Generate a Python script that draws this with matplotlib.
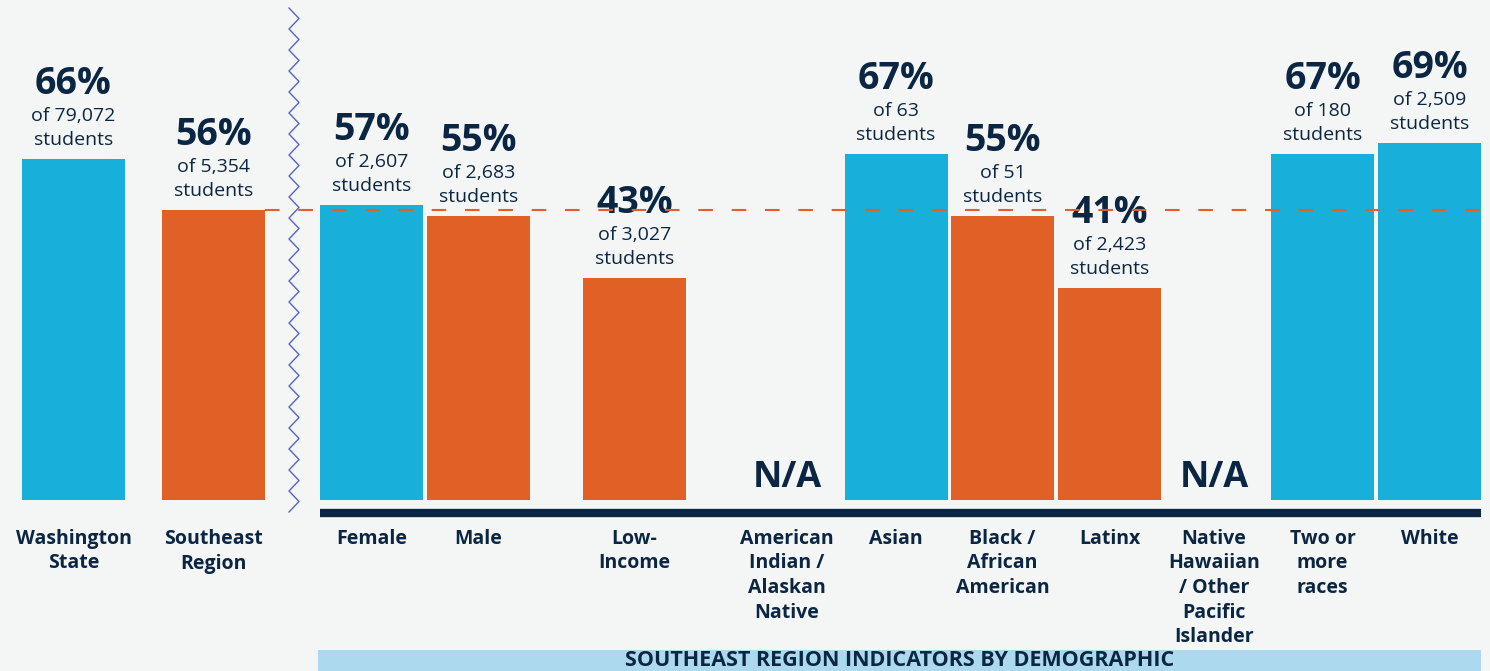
import numpy as np
import matplotlib
matplotlib.use("Agg")
import matplotlib.pyplot as plt

plt.rcParams['font.family'] = ['Open Sans', 'DejaVu Sans']

# data
categories = ["Washington\nState", "Southeast\nRegion", "Female", "Male", "Low-\nIncome",
              "American\nIndian /\nAlaskan\nNative", "Asian", "Black /\nAfrican\nAmerican",
              "Latinx", "Native\nHawaiian\n/ Other\nPacific\nIslander", "Two or\nmore\nraces", "White"]
pct = [66, 56, 57, 55, 43, None, 67, 55, 41, None, 67, 69]
students = ["79,072", "5,354", "2,607", "2,683", "3,027", None, "63", "51", "2,423", None, "180", "2,509"]
region_value = 56
banner_title = "SOUTHEAST REGION INDICATORS BY DEMOGRAPHIC"

# layout (pixel units across a 1490 px wide figure)
xpos = [73.5, 213.5, 371.5, 478.5, 634.5, 787, 896, 1002.5, 1109.5, 1214, 1322.5, 1429.5]
bar_w = 103
W, H = 1490, 671
base_px = 500
px_per_pct = 5.17

BLUE = "#18b0da"
ORANGE = "#e06026"
NAVY = "#0b2642"
BG = "#f4f6f6"
ZIG = "#5a62c2"
BANNER = "#acd9ee"

fig = plt.figure(figsize=(W / 100, H / 100), dpi=100, facecolor=BG)
ax = fig.add_axes([0, (H - base_px) / H, 1, base_px / H])
ax.set_xlim(0, W)
ax.set_ylim(0, base_px / px_per_pct)
ax.axis("off")
ax.patch.set_alpha(0)

ov = fig.add_axes([0, 0, 1, 1], zorder=5)
ov.set_xlim(0, W)
ov.set_ylim(H, 0)
ov.axis("off")
ov.patch.set_alpha(0)

pt = 0.72  # points per pixel at 100 dpi

for x, v, n, cat in zip(xpos, pct, students, categories):
    ov.text(x, 529, cat, ha="center", va="top", fontsize=14, fontweight="bold",
            color=NAVY, linespacing=1.3)
    if v is None:
        ov.text(x, 478, "N/A", ha="center", va="center", fontsize=26,
                fontweight="bold", color=NAVY)
        continue
    c = BLUE if v > region_value else ORANGE
    ax.bar(x, v, width=bar_w, color=c)
    ax.annotate(f"{v}%", (x, v), xytext=(0, 75 * pt), textcoords="offset points",
                ha="center", va="center", fontsize=27, fontweight="bold", color=NAVY)
    ax.annotate(f"of {n}", (x, v), xytext=(0, 43 * pt), textcoords="offset points",
                ha="center", va="center", fontsize=14, color=NAVY)
    ax.annotate("students", (x, v), xytext=(0, 19 * pt), textcoords="offset points",
                ha="center", va="center", fontsize=14, color=NAVY)

# region reference line
x0 = xpos[1] + bar_w / 2
x1 = xpos[-1] + bar_w / 2
ax.plot([x0, x1], [region_value, region_value], color=ORANGE, lw=1.5,
        dashes=(7, 9), zorder=6)

# zigzag divider
zy = np.arange(8, 513, 10.5)
zx = np.where(np.arange(len(zy)) % 2 == 0, 289, 299)
ov.plot(zx, zy, color=ZIG, lw=1.0)

# baseline under demographic bars
ov.plot([320, 1481], [512.5, 512.5], color=NAVY, lw=6, solid_capstyle="butt")

# banner
ov.add_patch(plt.Rectangle((318, 650), 1481 - 318, 21, color=BANNER, lw=0))
ov.text((318 + 1481) / 2, 661, banner_title, ha="center", va="center",
        fontsize=15.5, fontweight="bold", color=NAVY)

fig.savefig("out.png", dpi=100, facecolor=BG)
